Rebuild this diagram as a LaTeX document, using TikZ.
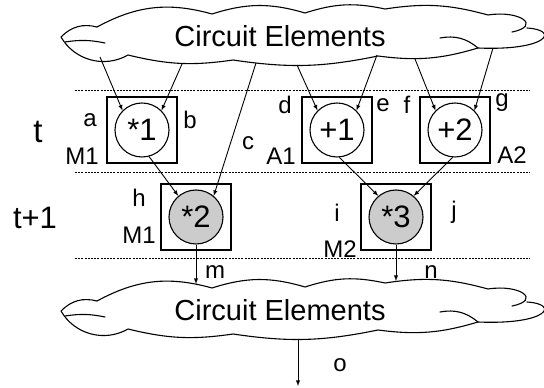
\documentclass[tikz,border=0pt]{standalone}
\usepackage{fontspec}
\setmainfont{Liberation Sans}
\usepackage{tikz}
\usetikzlibrary{positioning}

\tikzset{
  cloudline/.style={line width=1.1pt,line join=round,line cap=round},
  cloudpuffs/.pic={
    \draw[cloudline] (-183,9) to[bend left=22] (-68,22) to[bend left=17] (25,23)
      to[bend left=15] (105,27) to[bend left=12] (208,21)
      .. controls (240,26) and (262,10) .. (232,4);
    \draw[cloudline] (247,8) .. controls (280,6) and (268,-15) .. (198,-12)
      to[bend left=12] (98,-20) to[bend left=10] (-47,-24) to[bend left=11] (-152,-19)
      to[bend left=45] (-219,-1) to[bend left=30] (-183,9);
    \draw[cloudline] (-215,-6) to[bend left=10] (-175,-7);
    \draw[cloudline] (198,-12) to[bend right=25] (160,-2);
  }
}

\begin{document}
\begin{tikzpicture}[x=1pt,y=1pt,
    opbox/.style={draw,line width=1.1pt,minimum width=70pt,minimum height=66pt},
    op/.style={draw,circle,line width=1.1pt,minimum size=54pt,inner sep=0pt,font=\fontsize{31}{31}\selectfont},
    opgray/.style={op,fill=black!20},
    lbl/.style={inner sep=0pt,font=\fontsize{24}{24}\selectfont},
    big/.style={inner sep=0pt,font=\fontsize{29}{29}\selectfont},
    arrow/.style={-latex,line width=0.9pt},
    sep/.style={line width=0.6pt,dash pattern=on 2pt off 1.2pt}]
  \useasboundingbox (0,0) rectangle (544,388);

  % clouds
  \pic at (280,352) {cloudpuffs};
  \pic at (280,78) {cloudpuffs};
  \node[big] (topcl) at (280,352) {Circuit Elements};
  \node[big] (botcl) at (280,78) {Circuit Elements};

  % time steps
  \foreach \y in {298,216,130}
    \draw[sep] (75,\y) -- (530,\y);
  \node[big,font=\fontsize{33}{33}\selectfont] (tt) at (38,256) {t};
  \node[big,font=\fontsize{31}{31}\selectfont] (tt1) at (35,170) {t+1};

  % step t
  \node[opbox] (b1) at (142,258) {};
  \node[op] (c1) at (b1) {*1};
  \node[opbox] (b2) at (337,258) {};
  \node[op] (p1) at (b2) {+1};
  \node[opbox] (b3) at (455,258) {};
  \node[op] (p2) at (b3) {+2};

  % step t+1
  \node[opbox] (b4) at (196,171) {};
  \node[opgray] (m2) at (b4) {*2};
  \node[opbox] (b5) at (396,171) {};
  \node[opgray] (m3) at (b5) {*3};

  % labels
  \node[lbl] (la) at (90,268) {a};
  \node[lbl] (lb) at (190,268) {b};
  \node[lbl] (lc) at (248,245) {c};
  \node[lbl] (ld) at (285,283) {d};
  \node[lbl] (le) at (383,283) {e};
  \node[lbl] (lf) at (407,283) {f};
  \node[lbl] (lg) at (502,285) {g};
  \node[lbl] (lh) at (139,190) {h};
  \node[lbl] (li) at (337,175) {i};
  \node[lbl] (lj) at (454,176) {j};
  \node[lbl] (lm) at (215,116) {m};
  \node[lbl] (ln) at (431,116) {n};
  \node[lbl] (lo) at (340,23) {o};
  \node[lbl] (u1) at (82,232) {M1};
  \node[lbl] (u2) at (281,232) {A1};
  \node[lbl] (u3) at (512,233) {A2};
  \node[lbl] (u4) at (139,153) {M1};
  \node[lbl] (u5) at (340,139) {M2};

  % cloud ends
  \coordinate (sa) at (100,331);
  \coordinate (sb) at (182,324);
  \coordinate (sc) at (256,325);
  \coordinate (sd) at (297,323);
  \coordinate (se) at (377,333);
  \coordinate (sf) at (415,329);
  \coordinate (sg) at (493,340);
  \coordinate (em) at (196,104);
  \coordinate (en) at (396,107);
  \coordinate (so) at (298,49);
  \coordinate (eo) at (298,2);

  \draw[arrow] (sa) -- (c1.135);
  \draw[arrow] (sb) -- (c1.45);
  \draw[arrow] (sd) -- (p1.135);
  \draw[arrow] (se) -- (p1.45);
  \draw[arrow] (sf) -- (p2.135);
  \draw[arrow] (sg) -- (p2.45);
  \draw[arrow] (sc) -- (m2.50);
  \draw[arrow] (c1.-75) -- (m2.130);
  \draw[arrow] (p1.-85) -- (m3.130);
  \draw[arrow] (p2.-95) -- (m3.50);
  \draw[arrow] (m2) -- (em);
  \draw[arrow] (m3) -- (en);
  \draw[arrow] (so) -- (eo);
\end{tikzpicture}
\end{document}
